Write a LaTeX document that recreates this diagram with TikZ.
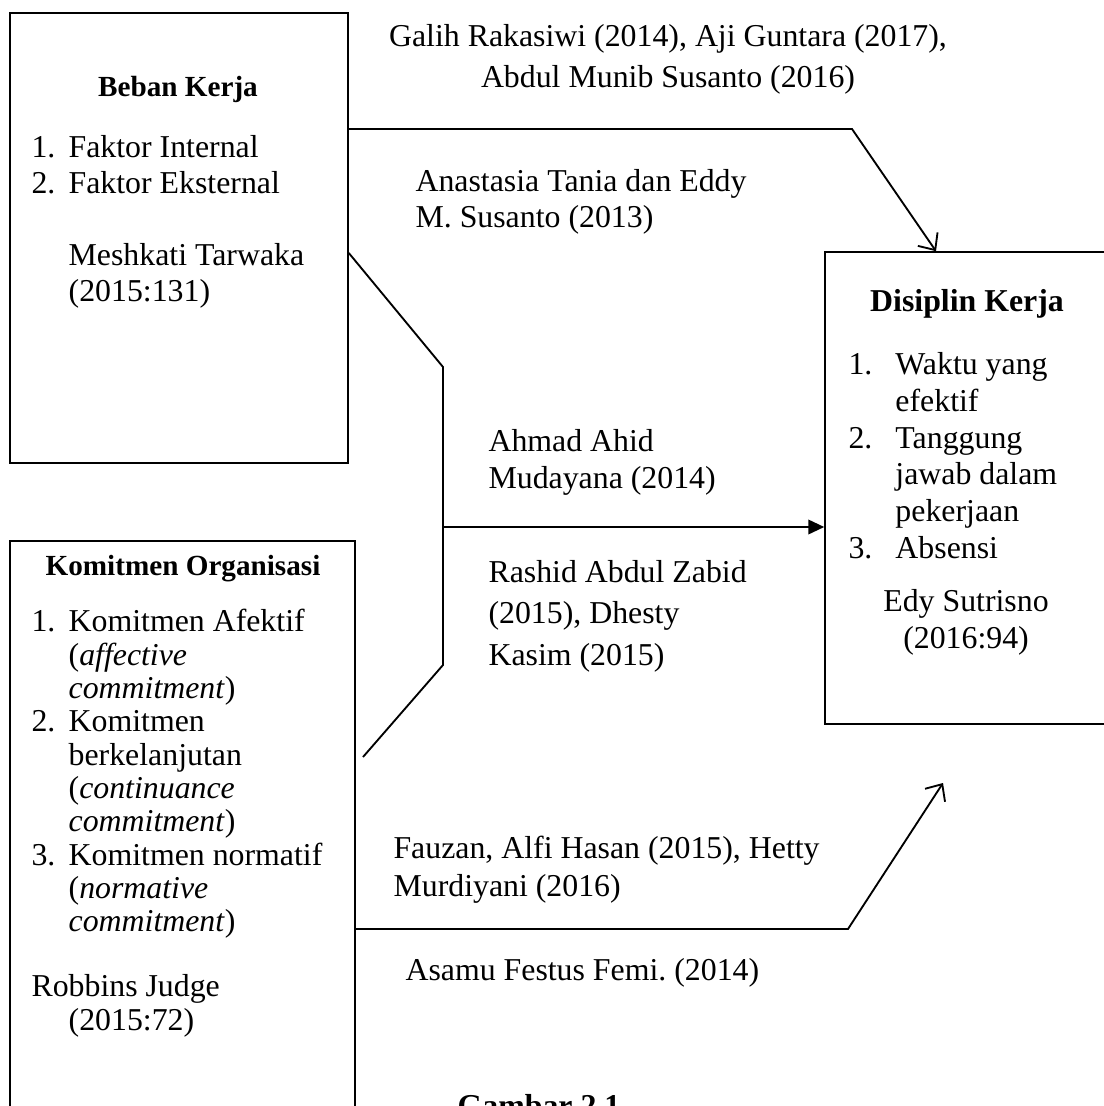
\documentclass[tikz,border=0pt]{standalone}
\usepackage{fontspec}
\setmainfont{Liberation Serif}
\usetikzlibrary{arrows.meta}
\usetikzlibrary{fit}
\usetikzlibrary{positioning}
\newcommand{\butir}[2][14pt]{\makebox[#1][l]{#2}}

\begin{document}
\begin{tikzpicture}[x=0.377pt, y=-0.377pt,
  kotak/.style={draw, rectangle, line width=0.6pt, inner sep=0pt},
  teks/.style={inner sep=0pt, align=left, anchor=base west, font=\fontsize{12}{13.6}\selectfont},
  judul/.style={inner sep=0pt, anchor=base, font=\fontsize{12}{13.6}\selectfont\bfseries},
  garis/.style={line width=0.7pt},
  panah/.style={garis, -{Straight Barb[length=5pt,width=9pt]}},
  panahpenuh/.style={garis, -{Triangle[length=6pt,width=5.5pt]}}]
  \useasboundingbox (0,0) rectangle (1103,1106);

  % kotak variabel
  \coordinate (b1) at (10,13);   \coordinate (b2) at (348,463);
  \coordinate (k1) at (10,541);  \coordinate (k2) at (355,1130);
  \coordinate (d1) at (825,252); \coordinate (d2) at (1130,724);
  \node[kotak, fit=(b1)(b2)] (beban) {};
  \node[kotak, fit=(k1)(k2)] (komitmen) {};
  \node[kotak, fit=(d1)(d2)] (disiplin) {};

  % teks dalam kotak (titik acuan = baris terakhir)
  \node[judul, font=\fontsize{11}{13}\selectfont\bfseries] (bebanJudul) at (178,97) {Beban Kerja};
  \node[teks] (bebanIsi) at (31,302) {\butir{1.}Faktor Internal\\
    \butir{2.}Faktor Eksternal\\[13.6pt]
    \butir{}Meshkati Tarwaka\\
    \butir{}(2015:131)};

  \node[judul, font=\fontsize{11}{13}\selectfont\bfseries] (komitmenJudul) at (183,575) {Komitmen Organisasi};
  \node[teks, font=\fontsize{12}{12.55}\selectfont] (komitmenIsi) at (31,1030) {\butir{1.}Komitmen Afektif\\
    \butir{}(\textit{affective}\\
    \butir{}\textit{commitment})\\
    \butir{2.}Komitmen\\
    \butir{}berkelanjutan\\
    \butir{}(\textit{continuance}\\
    \butir{}\textit{commitment})\\
    \butir{3.}Komitmen normatif\\
    \butir{}(\textit{normative}\\
    \butir{}\textit{commitment})\\[12pt]
    Robbins Judge\\
    \butir{}(2015:72)};

  \node[judul] (disiplinJudul) at (967,312) {Disiplin Kerja};
  \node[teks, font=\fontsize{12}{13.8}\selectfont] (disiplinIsi) at (848,558) {\butir[17.7pt]{1.}Waktu yang\\
    \butir[17.7pt]{}efektif\\
    \butir[17.7pt]{2.}Tanggung\\
    \butir[17.7pt]{}jawab dalam\\
    \butir[17.7pt]{}pekerjaan\\
    \butir[17.7pt]{3.}Absensi};
  \node[teks, align=center, anchor=base] (disiplinSumber) at (966,648) {Edy Sutrisno\\(2016:94)};

  % rujukan penelitian
  \node[teks, align=center, anchor=base, font=\fontsize{12}{15.5}\selectfont] (ref1) at (668,88) {Galih Rakasiwi (2014), Aji Guntara (2017),\\Abdul Munib Susanto (2016)};
  \node[teks] (ref2) at (415,228) {Anastasia Tania dan Eddy\\M. Susanto (2013)};
  \node[teks] (ref3) at (488,488) {Ahmad Ahid\\Mudayana (2014)};
  \node[teks, font=\fontsize{12}{15.6}\selectfont] (ref4) at (488,665) {Rashid Abdul Zabid\\(2015), Dhesty\\Kasim (2015)};
  \node[teks, font=\fontsize{12}{14}\selectfont] (ref5) at (393,896) {Fauzan, Alfi Hasan (2015), Hetty\\Murdiyani (2016)};
  \node[teks] (ref6) at (405,980) {Asamu Festus Femi.\ (2014)};
  \node[judul] (gambar) at (539,1116) {Gambar 2.1};

  \coordinate (t1) at (852,129);
  \coordinate (t2) at (936,252);
  \coordinate (m0) at (0,253);
  \coordinate (m1) at (443,367);
  \coordinate (m2) at (443,665);
  \coordinate (m3) at (363,757);
  \coordinate (m4) at (443,527);
  \coordinate (p1) at (848,929);
  \coordinate (p2) at (943,783);

  \draw[panah] (beban.east |- t1) -- (t1) -- (disiplin.north -| t2);
  \draw[garis] (beban.east |- m0) -- (m1) -- (m2) -- (m3);
  \draw[panahpenuh] (m4) -- (disiplin.west |- m4);
  \draw[panah] (komitmen.east |- p1) -- (p1) -- (p2);
\end{tikzpicture}
\end{document}
